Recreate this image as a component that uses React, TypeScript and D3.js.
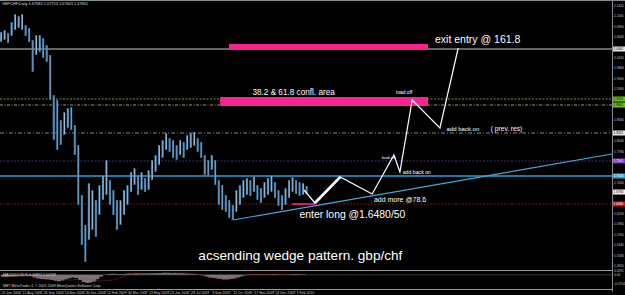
import React from "react";
import * as d3 from "d3";

const W = 625;
const H = 295;

// weekly high / low of GBPCHF (Jun 2008 - Feb 2010)
const weekHigh = [
  2.0766, 2.0816, 2.0741, 2.1016, 2.1216, 2.1166, 2.1216, 2.0941, 2.0866, 2.0566,
  2.0691, 2.0691, 2.0616, 2.0441, 2.0191, 1.9191, 1.9066, 1.8566, 1.8766, 1.8866,
  1.8891, 1.8441, 1.7941, 1.6691, 1.5941, 1.6991, 1.6816, 1.6566, 1.6941, 1.7191,
  1.7566, 1.7066, 1.6816, 1.6566, 1.6566, 1.6816, 1.6941, 1.7266, 1.7366, 1.7191,
  1.7266, 1.7116, 1.7316, 1.7566, 1.7691, 1.7941, 1.8066, 1.8241, 1.8116, 1.8066,
  1.7941, 1.8066, 1.8016, 1.8191, 1.8241, 1.8266, 1.8116, 1.8016, 1.7691, 1.7566,
  1.7691, 1.7566, 1.7066, 1.6941, 1.6691, 1.6566, 1.6441, 1.6816, 1.6941, 1.7066,
  1.7116, 1.7066, 1.7166, 1.6941, 1.6866, 1.7016, 1.7116, 1.7191, 1.7016, 1.6816,
  1.6691, 1.6866, 1.7066, 1.7141, 1.7066, 1.7016, 1.6991, 1.6916,
];
const weekLow = [
  2.0516, 2.0566, 2.0491, 2.0666, 2.0816, 2.0866, 2.0816, 2.0666, 2.0516, 1.9766,
  2.0191, 2.0266, 2.0116, 2.0016, 1.9066, 1.8066, 1.7816, 1.7941, 1.8191, 1.8366,
  1.8316, 1.7691, 1.6441, 1.5441, 1.5016, 1.5566, 1.5816, 1.5641, 1.6191, 1.6566,
  1.6691, 1.6441, 1.6191, 1.5816, 1.5941, 1.6191, 1.6441, 1.6766, 1.6941, 1.6691,
  1.6816, 1.6766, 1.6816, 1.7066, 1.7266, 1.7441, 1.7616, 1.7816, 1.7766, 1.7616,
  1.7566, 1.7691, 1.7616, 1.7816, 1.7866, 1.7916, 1.7766, 1.7616, 1.7191, 1.7166,
  1.7316, 1.6941, 1.6441, 1.6316, 1.6266, 1.6116, 1.6066, 1.6266, 1.6441, 1.6616,
  1.6691, 1.6666, 1.6766, 1.6566, 1.6491, 1.6616, 1.6691, 1.6766, 1.6616, 1.6416,
  1.6316, 1.6441, 1.6616, 1.6766, 1.6716, 1.6666, 1.6691, 1.6716,
];

// MACD histogram (weekly) and signal line
const macdHist = [
  -0.016, -0.016, -0.014, -0.012, -0.01, -0.008, -0.006, -0.006, -0.008, -0.02,
  -0.028, -0.032, -0.034, -0.036, -0.04, -0.046, -0.05, -0.044, -0.034, -0.026,
  -0.02, -0.024, -0.04, -0.055, -0.064, -0.06, -0.052, -0.034, -0.014, -0.002,
  0.006, 0.008, 0.008, 0.006, 0.006, 0.008, 0.01, 0.01, 0.012, 0.01,
  0.01, 0.01, 0.012, 0.012, 0.014, 0.014, 0.016, 0.016, 0.014, 0.014,
  0.012, 0.012, 0.01, 0.008, 0.006, 0.004, 0.002, -0.004, -0.012, -0.02,
  -0.024, -0.028, -0.032, -0.036, -0.036, -0.032, -0.028, -0.02, -0.012, -0.004,
  0.002, 0.004, 0.004, 0.004, 0.002, 0.002, 0.004, 0.006, 0.004, 0.002,
  0.0, 0.002, 0.004, 0.006, 0.006, 0.004, 0.004, 0.004,
];
const signalWeeks = [0, 4, 8, 12, 16, 20, 24, 28, 32, 36, 40, 44, 48, 52, 56, 60, 64, 68, 72, 76, 80, 84];
const signalVals = [-0.012, -0.01, -0.008, -0.022, -0.036, -0.04, -0.03, -0.05, -0.04, 0.0, 0.008, 0.01, 0.012, 0.014, 0.006, -0.018, -0.03, -0.008, 0.003, 0.003, 0.003, 0.004];
const macdAxisLabels = [0.0291, 0.0, -0.0714];

const dateLabels = [
  "20 Jun 2008", "12 Aug 2008", "26 Sep 2008", "14 Nov 2008", "30 Dec 2008",
  "12 Feb 2009", "30 Mar 2009", "13 May 2009", "23 Jun 2009", "28 Jul 2009",
  "3 Sep 2009", "11 Oct 2009", "17 Nov 2009", "24 Dec 2009", "1 Feb 2010",
];
const dateLabelWeeks = [0, 6, 12, 18, 24, 30, 36, 42, 48, 54, 60, 66, 72, 78, 84];

const priceTicks = [
  2.142, 2.116, 2.09, 2.064, 2.038, 2.012, 1.986, 1.96, 1.934, 1.908, 1.882, 1.856,
  1.83, 1.804, 1.778, 1.752, 1.726, 1.7, 1.674, 1.648, 1.622, 1.596, 1.57, 1.544,
  1.518, 1.492,
];

// horizontal levels: exit 161.8, fib green x2, prev. res, purple, cyan, entry
const levelPrices = [2.0341, 1.9091, 1.8941, 1.8241, 1.7541, 1.7166, 1.6466];
const currentPrice = 1.6766;

// projection zigzag
const zigWeeks = [86.3, 89.4, 96.6, 105.7, 111.9, 113.6, 117.1, 125.0, 130.2];
const zigPrices = [1.6816, 1.6491, 1.7141, 1.6716, 1.7691, 1.7266, 1.9066, 1.8366, 2.0366];

// ascending trend line (wedge bottom)
const trendWeeks = [66.1, 174];
const trendPrices = [1.6066, 1.7716];

// pink zones
const zoneWeekStart = [64.9, 62.4];
const zoneWeekEnd = [121.6, 121.6];
const zoneTop = [2.0466, 1.9141];
const zoneBottom = [2.0341, 1.8916];
const entryZoneWeeks = [82.9, 89.4];
const entryZonePrice = 1.6466;

// annotations
const noteTexts = [
  "exit entry @ 161.8",
  "38.2 & 61.8 confl. area",
  "load off",
  "add back on",
  "( prev. res)",
  "load off",
  "add back on",
  "add more @78.6",
  "enter long @1.6480/50",
  "acsending wedge pattern. gbp/chf",
];
const noteWeeks = [123.6, 71.6, 112.5, 126.9, 139.5, 108.4, 114.4, 106.2, 85.0, 56.2];
const notePrices = [2.0491, 1.9191, 1.921, 1.83, 1.83, 1.759, 1.7216, 1.6524, 1.6109, 1.5066];
const noteSizes = [10.5, 8.2, 5, 6, 6.6, 4.2, 5.2, 7, 10.4, 13.6];

const FONT = "'Liberation Sans', Arial, sans-serif";

export default function App() {
  const plotRight = 612;
  const x = d3.scaleLinear().domain([0, 174]).range([1, plotRight]);
  const y = d3.scaleLinear().domain([1.4816, 2.1566]).range([270, 0]);
  const ym = d3.scaleLinear().domain([-0.11, 0.03]).range([289, 271]);

  const levelStyles = [
    { stroke: "#c8c8c8", dash: "", w: 1 },
    { stroke: "#9cc43a", dash: "2,1.5", w: 0.8 },
    { stroke: "#b8c86a", dash: "3,1.5,1,1.5", w: 0.8 },
    { stroke: "#a8a8a8", dash: "4,2,1,2", w: 0.8 },
    { stroke: "#5a3a9a", dash: "2,1.5", w: 0.8 },
    { stroke: "#2f9fd8", dash: "", w: 1.3 },
    { stroke: "#9a1a1a", dash: "2,1.5", w: 0.8 },
  ];
  const boxStyles = [
    { bg: "#e6e6e6", fg: "#000" },
    { bg: "#6cc21a", fg: "#000" },
    { bg: "#6cc21a", fg: "#000" },
    { bg: "#e6e6e6", fg: "#000" },
    { bg: "#7a3cc8", fg: "#fff" },
    { bg: "#2fa3dc", fg: "#fff" },
    { bg: "#d01212", fg: "#fff" },
  ];

  const boxYs = [...levelPrices, currentPrice].map((p) => y(p));
  const freeTicks = priceTicks.filter((p) => boxYs.every((by) => Math.abs(by - y(p)) > 5));

  const zig = d3.line<number>().x((_, i) => x(zigWeeks[i])).y((d) => y(d))(zigPrices) || "";
  const histArea = d3
    .area<number>()
    .x((_, i) => x(i))
    .y0(ym(0))
    .y1((d) => ym(d))
    .curve(d3.curveStepAfter)(macdHist) || "";
  const sigLine = d3.line<number>().x((_, i) => x(signalWeeks[i])).y((d) => ym(d))(signalVals) || "";

  const axisFs = 3.2;

  return (
    <div style={{ position: "absolute", left: 0, top: 0, width: W, height: H, background: "#000" }}>
      <svg width={W} height={H} style={{ display: "block" }} fontFamily={FONT}>
        <rect x={0} y={0} width={W} height={H} fill="#000" />
        <defs>
          <clipPath id="mainClip">
            <rect x={0} y={0} width={plotRight} height={270} />
          </clipPath>
        </defs>

        {/* frame */}
        <line x1={0} x2={W} y1={0.5} y2={0.5} stroke="#8a8a8a" />
        <line x1={plotRight + 0.5} x2={plotRight + 0.5} y1={0} y2={292} stroke="#8a8a8a" />
        <line x1={0} x2={plotRight} y1={270.5} y2={270.5} stroke="#9a9a9a" />
        <line x1={0} x2={plotRight} y1={289.5} y2={289.5} stroke="#9a9a9a" />

        <g clipPath="url(#mainClip)">
          {/* horizontal levels */}
          {levelPrices.map((p, i) => (
            <line
              key={"lv" + i}
              x1={0}
              x2={plotRight}
              y1={y(p)}
              y2={y(p)}
              stroke={levelStyles[i].stroke}
              strokeWidth={levelStyles[i].w}
              strokeDasharray={levelStyles[i].dash}
            />
          ))}

          {/* pink zones */}
          {zoneTop.map((t, i) => (
            <rect
              key={"z" + i}
              x={x(zoneWeekStart[i])}
              y={y(t)}
              width={x(zoneWeekEnd[i]) - x(zoneWeekStart[i])}
              height={y(zoneBottom[i]) - y(t)}
              fill="#f5248f"
            />
          ))}
          <line
            x1={x(entryZoneWeeks[0])}
            x2={x(entryZoneWeeks[1])}
            y1={y(entryZonePrice)}
            y2={y(entryZonePrice)}
            stroke="#f5248f"
            strokeWidth={1.6}
          />

          {/* price bars */}
          {weekHigh.map((h, i) => {
            const top = y(h);
            const bot = y(weekLow[i]);
            const mid = (h + weekLow[i]) / 2;
            const prevMid = i > 0 ? (weekHigh[i - 1] + weekLow[i - 1]) / 2 : mid;
            const up = mid >= prevMid;
            return (
              <g key={"c" + i}>
                <rect x={x(i) - 1} y={top} width={2} height={Math.max(1, bot - top)} fill="#3f78a6" />
                <line
                  x1={x(i) + 0.3}
                  x2={x(i) + 0.3}
                  y1={top + 1}
                  y2={bot - 1}
                  stroke={up ? "#cfdde8" : "#7fb0d6"}
                  strokeWidth={0.7}
                />
              </g>
            );
          })}

          {/* trend line */}
          <line
            x1={x(trendWeeks[0])}
            x2={x(trendWeeks[1])}
            y1={y(trendPrices[0])}
            y2={y(trendPrices[1])}
            stroke="#45a9dd"
            strokeWidth={1.2}
          />

          {/* projection zigzag */}
          <path d={zig} fill="none" stroke="#fff" strokeWidth={1.2} strokeLinejoin="miter" />
          <line
            x1={x(zigWeeks[1])}
            x2={x(zigWeeks[2])}
            y1={y(zigPrices[1])}
            y2={y(zigPrices[2])}
            stroke="#fff"
            strokeWidth={2.6}
          />

          {/* annotations */}
          {noteTexts.map((t, i) => (
            <text key={"n" + i} x={x(noteWeeks[i])} y={y(notePrices[i])} fill="#fff" fontSize={noteSizes[i]}>
              {t}
            </text>
          ))}

          <text x={2} y={5} fill="#d8d8d8" fontSize={3.9}>
            GBPCHF,Daily  1.67683 1.67753 1.67603 1.67661
          </text>
        </g>

        {/* price axis */}
        {freeTicks.map((p, i) => (
          <g key={"pt" + i}>
            <line x1={plotRight} x2={plotRight + 1.5} y1={y(p)} y2={y(p)} stroke="#8a8a8a" strokeWidth={0.6} />
            <text x={plotRight + 2} y={y(p) + 1.2} fill="#c8c8c8" fontSize={axisFs}>
              {p.toFixed(4)}
            </text>
          </g>
        ))}
        {levelPrices.map((p, i) => (
          <g key={"bx" + i}>
            <rect x={plotRight + 1} y={y(p) - 2.5} width={12} height={5} fill={boxStyles[i].bg} />
            <text x={plotRight + 1.6} y={y(p) + 1.2} fill={boxStyles[i].fg} fontSize={axisFs}>
              {p.toFixed(4)}
            </text>
          </g>
        ))}
        <rect x={plotRight + 1} y={y(currentPrice) - 2.5} width={12} height={5} fill="#f2f2f2" />
        <text x={plotRight + 1.6} y={y(currentPrice) + 1.2} fill="#000" fontSize={axisFs}>
          {currentPrice.toFixed(4)}
        </text>

        {/* MACD panel */}
        <path d={histArea} fill="#8c8c8c" opacity={0.85} />
        <line x1={0} x2={plotRight} y1={ym(0)} y2={ym(0)} stroke="#6a6a6a" strokeWidth={0.5} />
        <path d={sigLine} fill="none" stroke="#c03030" strokeWidth={0.7} strokeDasharray="1.5,1" />
        <text x={3} y={275.5} fill="#d0d0d0" fontSize={3.6}>
          MACD(12,26,9) 0.00891 0.00268
        </text>
        <text x={3} y={287} fill="#d0d0d0" fontSize={3.6}>
          MBT MetaTrader 4, © 2001-2009 MetaQuotes Software Corp.
        </text>
        {macdAxisLabels.map((v, i) => (
          <text key={"ma" + i} x={plotRight + 2} y={ym(v) + 1.2} fill="#c8c8c8" fontSize={axisFs}>
            {v === 0 ? "0.00" : v.toFixed(4)}
          </text>
        ))}

        {/* date axis */}
        {dateLabels.map((d, i) => (
          <g key={"d" + i}>
            <line x1={x(dateLabelWeeks[i])} x2={x(dateLabelWeeks[i])} y1={289} y2={291} stroke="#8a8a8a" strokeWidth={0.6} />
            <text x={x(dateLabelWeeks[i]) + 0.5} y={294} fill="#c8c8c8" fontSize={3.5}>
              {d}
            </text>
          </g>
        ))}
      </svg>
    </div>
  );
}
